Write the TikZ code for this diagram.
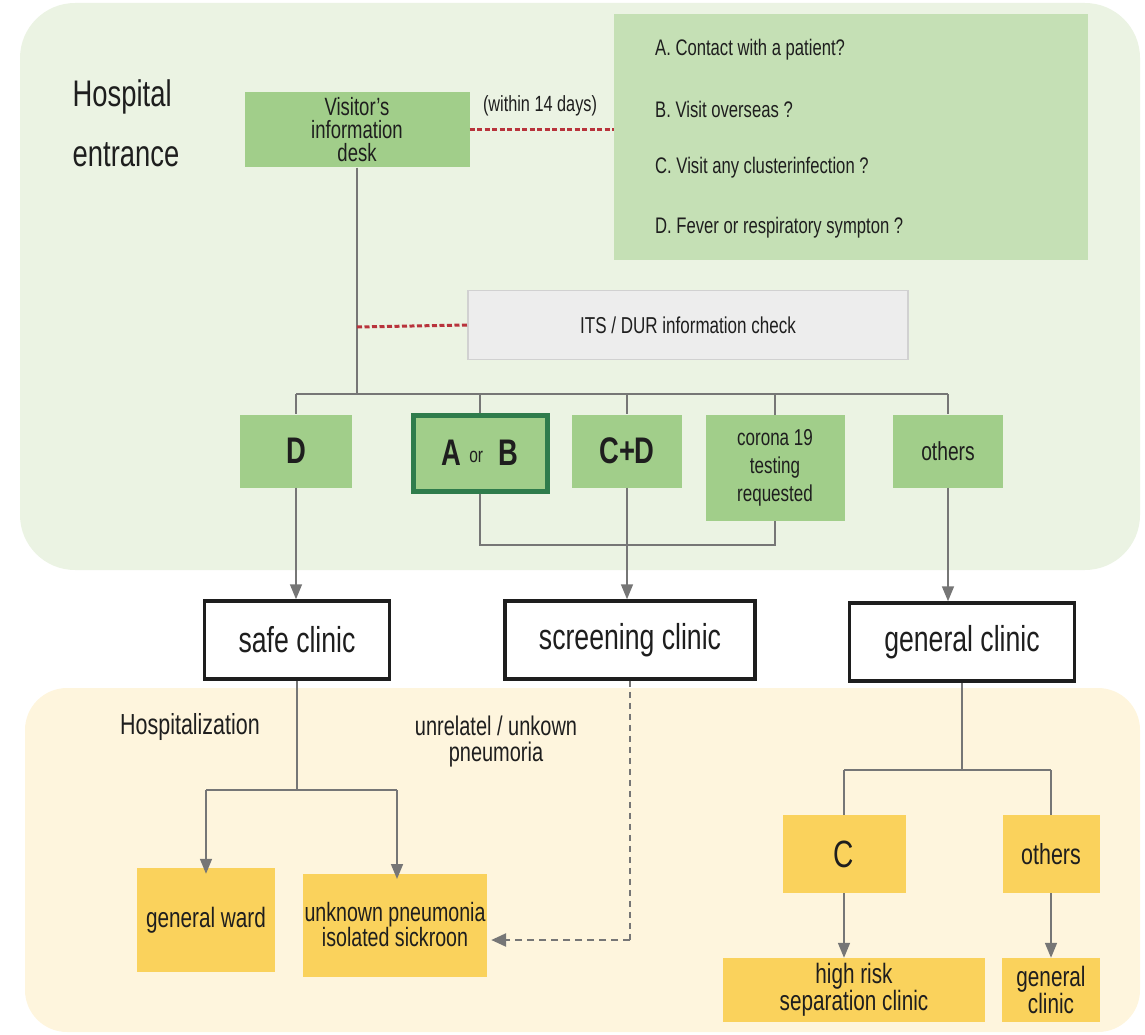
\documentclass[tikz,border=0pt]{standalone}
\usepackage{fontspec}
\setmainfont{Liberation Sans}[FakeStretch=0.74]
\usetikzlibrary{arrows.meta}
\definecolor{bggreen}{HTML}{EBF3E3}
\definecolor{bgyellow}{HTML}{FEF5DD}
\definecolor{boxgreen}{HTML}{A1CE8A}
\definecolor{qgreen}{HTML}{C5E0B5}
\definecolor{darkgreen}{HTML}{2F7C4C}
\definecolor{boxyellow}{HTML}{FAD25C}
\definecolor{lineg}{HTML}{767676}
\definecolor{reddash}{HTML}{B8333C}
\definecolor{txt}{HTML}{1E1E1E}
\newcommand{\fs}[1]{\fontsize{#1}{#1}\selectfont}
\newcommand{\fsl}[2]{\fontsize{#1}{#2}\selectfont}
\tikzset{
  gbox/.style={fill=boxgreen, draw=none, inner sep=0pt, align=center, text=txt},
  ybox/.style={fill=boxyellow, draw=none, inner sep=0pt, align=center, text=txt},
  clinicbox/.style={fill=white, draw=txt, line width=3.5pt, inner sep=0pt, align=center, text=txt, font=\fs{36}},
  conn/.style={draw=lineg, line width=1.6pt},
  arr/.style={conn, -{Triangle[length=15pt,width=12pt]}},
  rdash/.style={draw=reddash, line width=3pt, dash pattern=on 5pt off 2.5pt},
  lbl/.style={text=txt, align=center, inner sep=0pt}
}
\begin{document}
\begin{tikzpicture}[x=1pt,y=-1pt]
\useasboundingbox (0,0) rectangle (1145,1035);
% backgrounds
\fill[bggreen, rounded corners=55pt] (20,3) rectangle (1140,570);
\fill[bgyellow, rounded corners=42pt] (25,688) rectangle (1140,1032);

% title
\node[lbl, align=left, font=\fsl{37}{60}] (title) at (126,123) {Hospital\\entrance};

% top area
\node[gbox, minimum width=225pt, minimum height=75pt, font=\fsl{25}{23}] (desk) at (357,130)
  {Visitor's\\information\\desk};
\node[fill=qgreen, inner sep=0pt, minimum width=474pt, minimum height=246pt] (q) at (851,137) {};
\node[lbl, anchor=west, font=\fs{22.5}] (qa) at (655,50) {A. Contact with a patient?};
\node[lbl, anchor=west, font=\fs{22.5}] (qb) at (655,109) {B. Visit overseas ?};
\node[lbl, anchor=west, font=\fs{22.5}] (qc) at (655,168) {C. Visit any clusterinfection ?};
\node[lbl, anchor=west, font=\fs{22.5}] (qd) at (655,228) {D. Fever or respiratory sympton ?};
\node[lbl, font=\fs{22}] (within) at (540,106) {(within 14 days)};
\draw[rdash] (desk.east) -- (desk.east -| q.west);

\node[fill=black!7, draw=black!18, line width=1.5pt, inner sep=0pt, minimum width=440pt, minimum height=69pt, font=\fs{23}, text=txt] (its) at (688,325) {ITS / DUR information check};

\coordinate (bj) at (357,394);
\coordinate (dj) at (357,327);
\draw[conn] (desk.south) -- (bj);
\draw[rdash] (dj) -- (its.west);

% category boxes
\node[gbox, minimum width=112pt, minimum height=73pt, font=\fs{37}\bfseries] (D) at (296,451) {D};
\node[gbox, draw=darkgreen, line width=5pt, minimum width=134pt, minimum height=76pt, font=\fs{37}\bfseries] (AB) at (480,453) {A \raisebox{3pt}{\mdseries\fs{21}or}\ \ B};
\node[gbox, minimum width=110pt, minimum height=73pt, font=\fs{37}\bfseries] (CD) at (627,451) {C+D};
\node[gbox, minimum width=139pt, minimum height=106pt, font=\fsl{23}{28}] (cor) at (775,468)
  {corona 19\\testing\\requested};
\node[gbox, minimum width=110pt, minimum height=73pt, font=\fs{26}] (oth1) at (948,451) {others};

\coordinate (busL) at (296,394);
\coordinate (busR) at (948,394);
\draw[conn] (busL) -- (busR);
\draw[conn] (busL) -- (D.north);
\draw[conn] (AB.north |- busL) -- (AB.north);
\draw[conn] (CD.north |- busL) -- (CD.north);
\draw[conn] (cor.north |- busL) -- (cor.north);
\draw[conn] (busR) -- (oth1.north);

\coordinate (abj) at (480,545);
\draw[conn] (AB.south) -- (abj) -- (abj -| cor.south) -- (cor.south);

% clinics
\node[clinicbox, minimum width=185pt, minimum height=78pt] (safe) at (297,640) {safe clinic};
\node[clinicbox, minimum width=250pt, minimum height=78pt] (scr) at (630,640) {screening clinic};
\node[clinicbox, minimum width=225pt, minimum height=78pt] (gen) at (962,642) {general clinic};

\draw[arr] (D.south) -- (D.south |- safe.north);
\draw[arr] (CD.south) -- (CD.south |- scr.north);
\draw[arr] (oth1.south) -- (oth1.south |- gen.north);

% lower area
\node[lbl, font=\fs{29}] (hosp) at (190,727) {Hospitalization};
\node[lbl, font=\fsl{27}{26}] (unrel) at (496,742) {unrelatel / unkown\\pneumoria};

\node[ybox, minimum width=138pt, minimum height=104pt, font=\fs{28}] (gward) at (206,920) {general ward};
\node[ybox, minimum width=184pt, minimum height=103pt, font=\fsl{26.5}{25}] (unk) at (395,925)
  {unknown pneumonia\\isolated sickroon};

\coordinate (sj) at (297,790);
\draw[conn] (safe.south) -- (sj);
\draw[conn] (gward.north |- sj) -- (sj -| 397,0);
\draw[arr] (gward.north |- sj) -- ([yshift=-6pt]gward.north);
\draw[arr] (397,790) -- ([yshift=-6pt]397,873);

\coordinate (scrd) at (630,940);
\draw[draw=lineg, line width=1.5pt, dash pattern=on 6pt off 5pt] (scr.south) -- (scrd);
\draw[draw=lineg, line width=2.5pt, dash pattern=on 7pt off 5pt, -{Triangle[length=15pt,width=13pt]}] (scrd) -- ([xshift=4pt]unk.east |- scrd);

\node[ybox, minimum width=123pt, minimum height=78pt, font=\fs{38}] (C) at (844,854) {C};
\node[ybox, minimum width=97pt, minimum height=78pt, font=\fs{29}] (oth2) at (1051,854) {others};
\node[ybox, minimum width=262pt, minimum height=64pt, font=\fsl{28}{25}] (hr) at (854,990)
  {high risk\\separation clinic};
\node[ybox, minimum width=98pt, minimum height=64pt, font=\fsl{28}{25}] (gc) at (1051,990)
  {general\\clinic};

\coordinate (gj) at (962,770);
\draw[conn] (gen.south) -- (gj);
\draw[conn] (C.north |- gj) -- (oth2.north |- gj);
\draw[conn] (C.north |- gj) -- (C.north);
\draw[conn] (oth2.north |- gj) -- (oth2.north);
\draw[arr] (C.south) -- (C.south |- hr.north);
\draw[arr] (oth2.south) -- (oth2.south |- gc.north);
\end{tikzpicture}
\end{document}
